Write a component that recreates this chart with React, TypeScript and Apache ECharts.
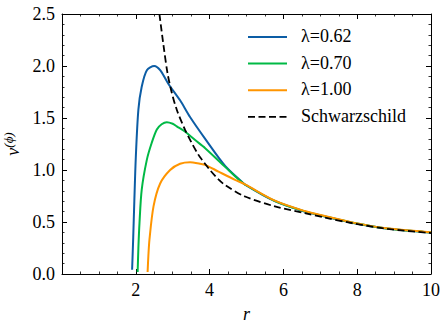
import React, { useEffect, useRef } from "react";
import * as echarts from "echarts";

const rBlue = [1.9, 1.93, 1.96, 2.0, 2.07, 2.16, 2.3, 2.5, 2.66, 2.88, 3.2, 3.47, 3.88, 4.42, 4.82, 4.96, 5.77, 6.58, 7.12, 7.89, 8.79, 9.96, 10.0];
const vBlue = [0.04, 0.35, 0.7, 1.12, 1.58, 1.8, 1.96, 2.0, 1.96, 1.83, 1.67, 1.51, 1.3, 1.04, 0.905, 0.86, 0.7, 0.6, 0.553, 0.49, 0.437, 0.4, 0.399];

const rGreen = [2.05, 2.07, 2.1, 2.16, 2.3, 2.43, 2.57, 2.7, 2.84, 3.0, 3.11, 3.33, 3.6, 3.88, 4.42, 4.78, 4.96, 5.77, 6.58, 7.12, 7.89, 8.79, 9.96, 10.0];
const vGreen = [0.02, 0.25, 0.49, 0.81, 1.1, 1.26, 1.39, 1.44, 1.46, 1.445, 1.42, 1.37, 1.29, 1.21, 1.03, 0.91, 0.86, 0.702, 0.602, 0.555, 0.492, 0.438, 0.401, 0.4];

const rOrange = [2.32, 2.34, 2.37, 2.48, 2.66, 2.93, 3.2, 3.47, 3.74, 3.88, 4.24, 4.69, 4.96, 5.77, 6.58, 7.12, 7.89, 8.79, 9.96, 10.0];
const vOrange = [0.02, 0.17, 0.33, 0.65, 0.87, 1.0, 1.06, 1.075, 1.06, 1.05, 0.985, 0.905, 0.862, 0.705, 0.605, 0.557, 0.494, 0.44, 0.402, 0.401];

const rSchw = [2.64, 2.75, 2.86, 2.97, 3.11, 3.33, 3.5, 3.69, 3.79, 4.01, 4.24, 4.42, 4.96, 5.77, 6.58, 7.12, 7.89, 8.79, 9.96, 10.0];
const vSchw = [2.5, 2.2, 1.93, 1.75, 1.58, 1.39, 1.27, 1.15, 1.1, 1.0, 0.91, 0.855, 0.745, 0.65, 0.585, 0.543, 0.487, 0.435, 0.395, 0.394];

const seriesNames = ["λ=0.62", "λ=0.70", "λ=1.00", "Schwarzschild"];
const colors = ["#0C5DA5", "#00B945", "#FF9500", "#000000"];

const xTicks = [0, 2, 4, 6, 8, 10];
const yTicks = [0, 0.5, 1, 1.5, 2, 2.5];

const FONT = "Liberation Serif";
const FS = 18;
const DASH = [7, 3.5];

function pairs(xs: number[], ys: number[]) {
  return xs.map((x, i) => [x, ys[i]]);
}

export default function App() {
  const ref = useRef<HTMLDivElement>(null);
  useEffect(() => {
    if (!ref.current) return;
    const chart = echarts.init(ref.current, undefined, { renderer: "svg" });
    const tickCommon = {
      axisLine: { show: true, onZero: false, lineStyle: { color: "#000", width: 1 } },
      axisTick: { show: true, inside: true, length: 5, lineStyle: { color: "#000", width: 1 } },
      splitLine: { show: false },
    };
    const xBase = {
      type: "value",
      min: xTicks[0],
      max: xTicks[xTicks.length - 1],
      interval: xTicks[1] - xTicks[0],
      ...tickCommon,
      minorTick: { show: true, splitNumber: 4, length: 2.5, lineStyle: { color: "#000", width: 0.8 } },
    };
    const yBase = {
      type: "value",
      min: yTicks[0],
      max: yTicks[yTicks.length - 1],
      interval: yTicks[1] - yTicks[0],
      ...tickCommon,
      minorTick: { show: true, splitNumber: 5, length: 2.5, lineStyle: { color: "#000", width: 0.8 } },
    };
    const datasets = [pairs(rBlue, vBlue), pairs(rGreen, vGreen), pairs(rOrange, vOrange), pairs(rSchw, vSchw)];

    const legendTop = 37;
    const legendStep = 26.6;
    const legendGraphics: any[] = [];
    seriesNames.forEach((name, i) => {
      const y = legendTop + i * legendStep;
      legendGraphics.push({
        type: "line",
        shape: { x1: 248, y1: y, x2: 287, y2: y },
        style: {
          stroke: colors[i],
          lineWidth: i === 3 ? 1.8 : 2,
          lineDash: i === 3 ? DASH : null,
        },
      });
      legendGraphics.push({
        type: "text",
        x: 301,
        y: y - 10,
        style: {
          text: name,
          fontFamily: FONT,
          fontSize: FS,
          fill: "#000",
        },
      });
    });

    chart.setOption({
      animation: false,
      backgroundColor: "#fff",
      textStyle: { fontFamily: FONT, fontSize: FS, color: "#000" },
      grid: { left: 62, right: 17, top: 14, bottom: 55, outerBoundsMode: "none", containLabel: false },
      graphic: legendGraphics,
      xAxis: [
        {
          ...xBase,
          position: "bottom",
          name: "r",
          nameLocation: "middle",
          nameGap: 31,
          nameTextStyle: { fontFamily: FONT, fontSize: FS, fontStyle: "italic", color: "#000" },
          axisLabel: {
            fontFamily: FONT,
            fontSize: FS,
            color: "#000",
            margin: 7,
            formatter: (v: number) => (v === 0 ? "" : String(v)),
          },
        },
        { ...xBase, position: "top", axisLabel: { show: false } },
      ],
      yAxis: [
        {
          ...yBase,
          position: "left",
          name: "{v|v}{s|(ϕ)}",
          nameLocation: "middle",
          nameGap: 40,
          nameRotate: 90,
          nameTextStyle: {
            color: "#000",
            fontFamily: FONT,
            rich: {
              v: { fontFamily: FONT, fontSize: FS, fontStyle: "italic", color: "#000", lineHeight: 20, verticalAlign: "bottom" },
              s: { fontFamily: FONT, fontSize: 13, fontStyle: "italic", color: "#000", lineHeight: 20, verticalAlign: "top" },
            },
          },
          axisLabel: {
            fontFamily: FONT,
            fontSize: FS,
            color: "#000",
            margin: 7,
            formatter: (v: number) => v.toFixed(1),
          },
        },
        { ...yBase, position: "right", axisLabel: { show: false } },
      ],
      series: datasets.map((d, i) => ({
        name: seriesNames[i],
        type: "line",
        data: d,
        xAxisIndex: 0,
        yAxisIndex: 0,
        symbol: "none",
        smooth: 0.3,
        clip: true,
        color: colors[i],
        lineStyle: { color: colors[i], width: i === 3 ? 1.8 : 2, type: i === 3 ? DASH : "solid" },
        z: i === 3 ? 6 : 2 + i,
      })),
    });
    return () => chart.dispose();
  }, []);
  return <div ref={ref} style={{ position: "absolute", left: 0, top: 0, width: 448, height: 329 }} />;
}
